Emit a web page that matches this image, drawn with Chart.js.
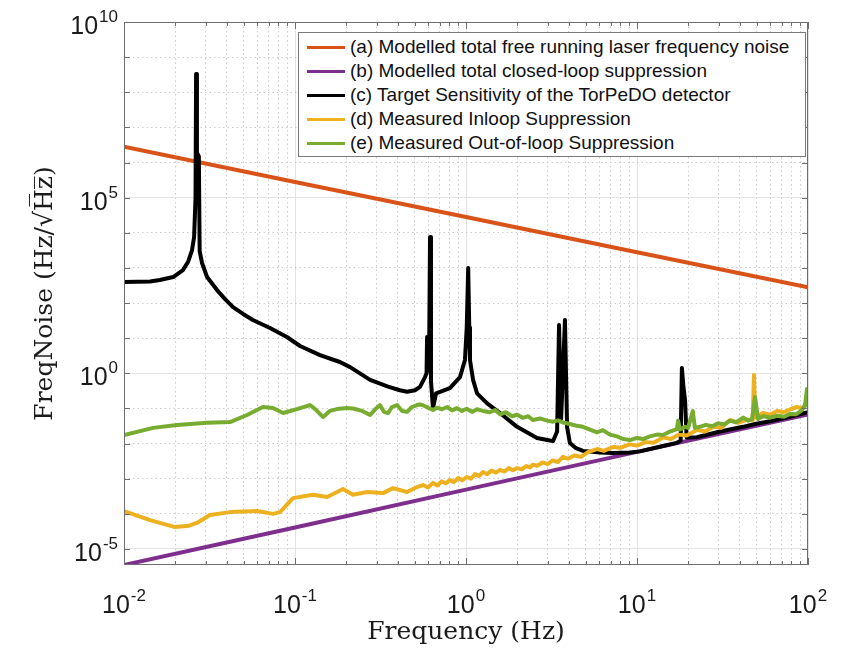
<!DOCTYPE html>
<html lang="en">
<head>
    <meta charset="UTF-8">
    <title>Frequency noise suppression</title>
    <script src="https://cdn.jsdelivr.net/npm/chart.js"></script>
    <style>
        body { margin: 0; background: #fff; }
        .wrap { position: relative; width: 844px; height: 650px; }
        #legend {
            position: absolute; left: 298px; top: 32px; width: 508px; height: 125px;
            box-sizing: border-box; border: 1px solid #7a7a7a; background: #fff;
            padding-top: 2px;
            font-family: "Liberation Sans", Arial, sans-serif; font-size: 19px; color: #111;
        }
        .row { display: flex; align-items: center; height: 24px; white-space: nowrap; }
        .swatch { width: 38px; height: 3px; margin-left: 8px; margin-right: 5px; }
    </style>
</head>
<body>
    <div class="wrap">
        <canvas id="noiseChart" width="844" height="650"></canvas>
        <div id="legend"></div>
    </div>

    <script>
        // (a) free running laser noise
        const freqA  = [0.01, 0.1, 1, 10, 100];
        const noiseA = [2.8e6, 2.8e5, 2.8e4, 2.8e3, 280];

        // (b) modelled closed-loop suppression
        const freqB  = [0.01, 0.1, 1, 10, 100];
        const noiseB = [3.5e-6, 4.1e-5, 4.9e-4, 5.8e-3, 0.068];

        // (c) TorPeDO target sensitivity
        const freqC  = [0.01, 0.0142, 0.0162, 0.0194, 0.0221, 0.0237, 0.025, 0.0257, 0.0262, 0.0264,
                        0.0267, 0.0274, 0.0277, 0.0286, 0.0306, 0.035, 0.039, 0.0434, 0.0497, 0.0567,
                        0.0714, 0.0897, 0.107, 0.14, 0.183, 0.21, 0.275, 0.35, 0.411, 0.452,
                        0.503, 0.538, 0.576, 0.588, 0.592, 0.597, 0.608, 0.616, 0.624, 0.641,
                        0.668, 0.805, 0.922, 0.986, 1.01, 1.03, 1.045, 1.055, 1.1, 1.16,
                        1.33, 1.58, 1.99, 2.6, 3.1, 3.23, 3.41, 3.5, 3.6, 3.79,
                        3.9, 4.05, 4.4, 4.83, 6.08, 7.24, 9.1, 10.4, 14.2, 17.1,
                        18.0, 18.3, 18.7, 19.1, 19.5, 22.4, 30.6, 41.7, 49, 60,
                        78.5, 100];
        const noiseC = [400, 410, 455, 550, 870, 1480, 3200, 7600, 1.0e5, 3.3e8,
                        1.9e6, 1.5e6, 3000, 1380, 550, 234, 130, 77, 49, 33,
                        19.5, 10.8, 6.0, 3.3, 2.1, 1.5, 0.65, 0.42, 0.33, 0.30,
                        0.33, 0.41, 0.78, 1.0, 10.8, 1.2, 2.0, 7600, 0.6, 0.103,
                        0.27, 0.38, 0.78, 2.4, 20, 1000, 20, 2.4, 0.65, 0.27,
                        0.14, 0.074, 0.030, 0.0145, 0.0122, 0.0118, 0.022, 23.6, 0.05, 33,
                        0.03, 0.0104, 0.0074, 0.0062, 0.0056, 0.0054, 0.0056, 0.006, 0.0085, 0.0105,
                        0.012, 1.42, 0.4, 0.17, 0.015, 0.0152, 0.022, 0.030, 0.036, 0.043,
                        0.058, 0.078];

        // (d) measured in-loop suppression
        const freqD  = [0.01, 0.0142, 0.0199, 0.024, 0.0267, 0.0318, 0.0417, 0.06, 0.0744, 0.0817,
                        0.0974, 0.1274, 0.154, 0.191, 0.218, 0.264, 0.327, 0.374, 0.452, 0.517,
                        0.561, 0.6, 0.641, 0.68, 0.72, 0.76, 0.805, 0.85, 0.9, 0.95,
                        1.01, 1.07, 1.13, 1.19, 1.257, 1.33, 1.41, 1.5, 1.58, 1.68,
                        1.78, 1.88, 1.99, 2.12, 2.25, 2.37, 2.46, 2.62, 2.8, 3.0,
                        3.2, 3.45, 3.69, 3.95, 4.3, 4.7, 5.2, 5.84, 6.4, 7.24,
                        8.0, 9.0, 10.0, 11.2, 12.5, 14.2, 15.8, 17.5, 19.5, 22.4,
                        25, 28, 31, 35, 39, 44, 47.5, 48.3, 49.2, 54.6,
                        60, 66, 72, 79, 86.3, 92, 98.6, 100];
        const noiseD = [1.2e-4, 6.6e-5, 4.2e-5, 4.6e-5, 5.5e-5, 9.3e-5, 1.12e-4, 1.2e-4, 1.0e-4, 1.12e-4,
                        2.8e-4, 3.5e-4, 3.0e-4, 5.1e-4, 3.5e-4, 4.2e-4, 3.9e-4, 5.4e-4, 4.2e-4, 5.8e-4,
                        6.6e-4, 5.6e-4, 7.6e-4, 6.4e-4, 8.4e-4, 7.4e-4, 9.1e-4, 8.0e-4, 1.05e-3, 9.0e-4,
                        1.12e-3, 1.0e-3, 1.35e-3, 1.2e-3, 1.55e-3, 1.35e-3, 1.7e-3, 1.5e-3, 1.78e-3, 1.6e-3,
                        2.0e-3, 1.75e-3, 2.0e-3, 1.85e-3, 2.3e-3, 2.1e-3, 2.5e-3, 2.35e-3, 2.9e-3, 2.6e-3,
                        3.3e-3, 3.0e-3, 4.2e-3, 3.7e-3, 4.6e-3, 4.2e-3, 5.8e-3, 7.0e-3, 6.2e-3, 8.0e-3,
                        7.6e-3, 9.5e-3, 8.8e-3, 0.011, 0.0105, 0.015, 0.0135, 0.018, 0.017, 0.0245,
                        0.022, 0.030, 0.028, 0.047, 0.039, 0.048, 0.046, 0.9, 0.055, 0.074,
                        0.066, 0.085, 0.078, 0.095, 0.11, 0.10, 0.14, 0.13];

        // (e) measured out-of-loop suppression
        const freqE  = [0.01, 0.0148, 0.0204, 0.0306, 0.0417, 0.0524, 0.065, 0.0744, 0.0852, 0.1027,
                        0.1224, 0.133, 0.146, 0.16, 0.176, 0.201, 0.218, 0.247, 0.275, 0.298,
                        0.314, 0.331, 0.35, 0.369, 0.395, 0.423, 0.452, 0.483, 0.517, 0.538,
                        0.568, 0.6, 0.641, 0.676, 0.724, 0.775, 0.829, 0.886, 0.948, 1.01,
                        1.084, 1.16, 1.257, 1.38, 1.48, 1.58, 1.71, 1.86, 1.99, 2.15,
                        2.31, 2.46, 2.71, 2.98, 3.23, 3.45, 3.69, 4.06, 4.46, 4.83,
                        5.31, 5.84, 6.32, 6.95, 7.64, 8.28, 9.1, 10, 10.84, 11.9,
                        13.1, 14.2, 15.6, 17.1, 17.4, 17.8, 19.1, 19.9, 21.2, 21.8,
                        23.3, 25.3, 27.5, 29.8, 32.3, 35, 37.9, 41.7, 44.6, 47.1,
                        49, 51, 54.6, 60, 65.9, 72.4, 78.5, 85.1, 91, 96,
                        98.6, 100];
        const noiseE = [0.0175, 0.028, 0.034, 0.039, 0.041, 0.065, 0.11, 0.103, 0.074, 0.096,
                        0.125, 0.09, 0.057, 0.085, 0.096, 0.103, 0.10, 0.085, 0.065, 0.10,
                        0.125, 0.08, 0.074, 0.11, 0.125, 0.085, 0.08, 0.11, 0.125, 0.13,
                        0.12, 0.105, 0.09, 0.105, 0.095, 0.11, 0.088, 0.102, 0.085, 0.098,
                        0.08, 0.095, 0.085, 0.078, 0.09, 0.068, 0.078, 0.06, 0.066, 0.054,
                        0.06, 0.047, 0.052, 0.045, 0.042, 0.046, 0.04, 0.036, 0.032, 0.03,
                        0.025, 0.021, 0.024, 0.018, 0.016, 0.0135, 0.0126, 0.0145, 0.0135, 0.016,
                        0.018, 0.0175, 0.022, 0.026, 0.045, 0.025, 0.03, 0.028, 0.085, 0.028,
                        0.03, 0.034, 0.031, 0.038, 0.035, 0.045, 0.04, 0.055, 0.045, 0.05,
                        0.21, 0.05, 0.06, 0.055, 0.062, 0.058, 0.07, 0.068, 0.085, 0.12,
                        0.36, 0.12];

        const seriesLabels = [
            '(a) Modelled total free running laser frequency noise',
            '(b) Modelled total closed-loop suppression',
            '(c) Target Sensitivity of the TorPeDO detector',
            '(d) Measured Inloop Suppression',
            '(e) Measured Out-of-loop Suppression'
        ];

        // tick labels are drawn as "10" with a raised exponent
        const xTickValues = [0.01, 0.1, 1, 10, 100];
        const xTickExps   = ['-2', '-1', '0', '1', '2'];
        const yTickValues = [1e-5, 1, 1e5, 1e10];
        const yTickExps   = ['-5', '0', '5', '10'];

        const colors = ['#D95319', '#7E2F8E', '#000000', '#EDB120', '#77AC30'];

        function pairs(xs, ys) {
            return xs.map((x, i) => ({ x: x, y: ys[i] }));
        }

        function findTick(values, v) {
            return values.findIndex(t => Math.abs(t - v) / t < 1e-6);
        }

        const sansFamily = '"Liberation Sans", Arial, sans-serif';
        const titleFont = { family: '"DejaVu Serif", serif', size: 25 };

        function drawPower(ctx, x, baseline, exp, align) {
            const baseFont = '25px ' + sansFamily;
            const expFont = '17px ' + sansFamily;
            ctx.font = baseFont;
            const wb = ctx.measureText('10').width;
            ctx.font = expFont;
            const we = ctx.measureText(exp).width;
            const total = wb + 1 + we;
            const left = align === 'center' ? x - total / 2 : x - total;
            ctx.textAlign = 'left';
            ctx.textBaseline = 'alphabetic';
            ctx.font = baseFont;
            ctx.fillText('10', left, baseline);
            ctx.font = expFont;
            ctx.fillText(exp, left + wb + 1, baseline - 12);
        }

        // MATLAB-like box with inward ticks, plus the power-of-ten labels
        const framePlugin = {
            id: 'frame',
            afterDatasetsDraw(chart) {
                const { ctx, chartArea: a, scales } = chart;
                ctx.save();
                ctx.strokeStyle = '#6e6e6e';
                ctx.lineWidth = 1;
                ctx.strokeRect(a.left + 0.5, a.top + 0.5, a.right - a.left - 1, a.bottom - a.top - 1);
                ctx.beginPath();
                scales.x.ticks.forEach(t => {
                    const px = Math.round(scales.x.getPixelForValue(t.value)) + 0.5;
                    const len = findTick(xTickValues, t.value) >= 0 ? 7 : 4;
                    ctx.moveTo(px, a.bottom); ctx.lineTo(px, a.bottom - len);
                    ctx.moveTo(px, a.top); ctx.lineTo(px, a.top + len);
                });
                scales.y.ticks.forEach(t => {
                    const py = Math.round(scales.y.getPixelForValue(t.value)) + 0.5;
                    ctx.moveTo(a.left, py); ctx.lineTo(a.left + 6, py);
                    ctx.moveTo(a.right, py); ctx.lineTo(a.right - 6, py);
                });
                ctx.stroke();

                ctx.fillStyle = '#1a1a1a';
                xTickValues.forEach((v, i) => {
                    drawPower(ctx, scales.x.getPixelForValue(v), a.bottom + 48, xTickExps[i], 'center');
                });
                yTickValues.forEach((v, i) => {
                    drawPower(ctx, a.left - 6, scales.y.getPixelForValue(v) + 12, yTickExps[i], 'right');
                });
                ctx.restore();
            }
        };

        const sets = [[freqA, noiseA], [freqB, noiseB], [freqC, noiseC], [freqD, noiseD], [freqE, noiseE]];

        const chart = new Chart(document.getElementById('noiseChart'), {
            type: 'line',
            data: {
                datasets: sets.map((s, i) => ({
                    label: seriesLabels[i],
                    data: pairs(s[0], s[1]),
                    borderColor: colors[i],
                    backgroundColor: colors[i],
                    borderWidth: 4,
                    pointRadius: 0,
                    tension: 0,
                    borderJoinStyle: 'round',
                    borderCapStyle: 'round',
                    order: 5 - i
                }))
            },
            options: {
                responsive: false,
                animation: false,
                layout: { padding: { left: 0, right: 36, top: 22, bottom: 0 } },
                plugins: {
                    legend: { display: false },
                    tooltip: { enabled: false }
                },
                scales: {
                    x: {
                        type: 'logarithmic',
                        min: 0.01,
                        max: 100,
                        afterBuildTicks(scale) {
                            const ticks = [];
                            for (let e = -2; e < 2; e++) {
                                for (let m = 1; m < 10; m++) ticks.push({ value: m * Math.pow(10, e) });
                            }
                            ticks.push({ value: 100 });
                            scale.ticks = ticks;
                        },
                        afterFit(scale) { scale.height = 85; },
                        ticks: { display: false, autoSkip: false },
                        grid: {
                            drawTicks: false,
                            color: ctx => (ctx.tick && findTick(xTickValues, ctx.tick.value) >= 0) ? '#e2e2e2' : '#cbcbcb'
                        },
                        border: {
                            display: false,
                            dash: ctx => (ctx.tick && findTick(xTickValues, ctx.tick.value) < 0) ? [1.5, 3] : []
                        },
                        title: {
                            display: true,
                            text: 'Frequency (Hz)',
                            color: '#1a1a1a',
                            font: titleFont,
                            padding: { top: 0, bottom: 3 }
                        }
                    },
                    y: {
                        type: 'logarithmic',
                        min: 3.5e-6,
                        max: 1e10,
                        afterBuildTicks(scale) {
                            const ticks = [];
                            for (let e = -5; e <= 10; e++) ticks.push({ value: Math.pow(10, e) });
                            scale.ticks = ticks;
                        },
                        afterFit(scale) { scale.width = 124; },
                        ticks: { display: false, autoSkip: false },
                        grid: {
                            drawTicks: false,
                            color: ctx => (ctx.tick && findTick(yTickValues, ctx.tick.value) >= 0) ? '#e2e2e2' : '#cbcbcb'
                        },
                        border: {
                            display: false,
                            dash: ctx => (ctx.tick && findTick(yTickValues, ctx.tick.value) < 0) ? [1.5, 3] : []
                        },
                        title: {
                            display: true,
                            text: 'FreqNoise (Hz/√H̅z̅)',
                            color: '#1a1a1a',
                            font: titleFont,
                            padding: { top: 30, bottom: 0 }
                        }
                    }
                }
            },
            plugins: [framePlugin]
        });

        // legend box drawn as html, built from the chart datasets
        const legendEl = document.getElementById('legend');
        chart.data.datasets.forEach(ds => {
            const row = document.createElement('div');
            row.className = 'row';
            row.innerHTML = `<span class="swatch" style="background:${ds.borderColor}"></span><span>${ds.label}</span>`;
            legendEl.appendChild(row);
        });
    </script>
</body>
</html>
